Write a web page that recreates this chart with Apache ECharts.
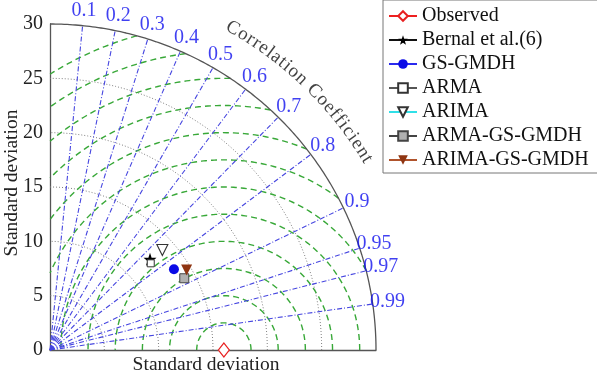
<!DOCTYPE html>
<html><head><meta charset="utf-8">
<script src="https://cdn.jsdelivr.net/npm/echarts@6/dist/echarts.min.js"></script>
<style>html,body{margin:0;padding:0;background:#fff}#c{width:597px;height:375px}</style>
</head><body><div id="c"></div>
<script>
// ---- data ----
const stdTicks = [0, 5, 10, 15, 20, 25, 30];
const stdArcs = [5, 10, 15, 20, 25];
const stdMax = 30;
const corrTicks = [0.1, 0.2, 0.3, 0.4, 0.5, 0.6, 0.7, 0.8, 0.9, 0.95, 0.97, 0.99];
const corrLabels = ['0.1', '0.2', '0.3', '0.4', '0.5', '0.6', '0.7', '0.8', '0.9', '0.95', '0.97', '0.99'];
const rmsLevels = [2.5, 5, 7.5, 10, 12.5, 15, 17.5, 20, 22.5, 25, 27.5, 30];
const refName = 'Observed';
const refStd = 16;
const modelNames = ['Bernal et al.(6)', 'GS-GMDH', 'ARMA', 'ARIMA', 'ARMA-GS-GMDH', 'ARIMA-GS-GMDH'];
const modelStd = [12.42, 13.61, 12.23, 13.84, 14.01, 14.57];
const modelCorr = [0.741, 0.838, 0.758, 0.747, 0.882, 0.863];
const axisTitle = 'Standard deviation';
const corrTitle = 'Correlation Coefficient';

// ---- styles ----
const FONT = '"Liberation Serif", "Times New Roman", serif';
const GRID = {left: 50, top: 24, size: 326};
const pxPerUnit = GRID.size / stdMax;
const starPath = 'path://M0,-10 L2.35,-3.24 9.51,-3.09 3.8,1.24 5.88,8.09 0,4 -5.88,8.09 -3.8,1.24 -9.51,-3.09 -2.35,-3.24Z';
const modelStyles = [
  {symbol: starPath, size: 13, rotate: 0, line: '#111', item: {color: '#000'}},
  {symbol: 'circle', size: 10, rotate: 0, line: '#2a2aee', item: {color: '#0a0ae6'}},
  {symbol: 'rect', size: 7, rotate: 0, line: '#555', item: {color: '#fff', borderColor: '#333', borderWidth: 1}},
  {symbol: 'triangle', size: 11, rotate: 180, line: '#30e0e8', item: {color: '#fff', borderColor: '#333', borderWidth: 1.1}},
  {symbol: 'rect', size: 9, rotate: 0, line: '#444', item: {color: '#b0b0b0', borderColor: '#444', borderWidth: 1}},
  {symbol: 'triangle', size: 11, rotate: 180, line: '#b0532c', item: {color: '#8f3512'}}
];

function deg(r) { return r * 180 / Math.PI; }

const series = [];
// std dotted arcs
stdArcs.forEach(r => {
  const pts = [];
  for (let i = 0; i <= 90; i++) { const t = i * Math.PI / 180; pts.push([r * Math.cos(t), r * Math.sin(t)]); }
  series.push({type: 'line', data: pts, symbol: 'none', silent: true, clip: false, z: 1,
    lineStyle: {color: '#808080', width: 1, type: [1, 2]}});
});
// RMS dashed arcs centred on the reference
rmsLevels.forEach(r => {
  let t0 = 0, t1 = Math.PI;
  if (refStd + r > stdMax) {
    const x = (stdMax * stdMax - r * r + refStd * refStd) / (2 * refStd);
    const y = Math.sqrt(Math.max(0, stdMax * stdMax - x * x));
    t0 = Math.atan2(y, x - refStd);
  }
  if (r > refStd) t1 = Math.atan2(Math.sqrt(r * r - refStd * refStd), -refStd);
  const pts = [], n = 160;
  for (let i = 0; i <= n; i++) { const t = t0 + (t1 - t0) * i / n; pts.push([refStd + r * Math.cos(t), r * Math.sin(t)]); }
  series.push({type: 'line', data: pts, symbol: 'none', silent: true, clip: false, z: 2,
    lineStyle: {color: '#38a838', width: 1.4, type: [6, 4]}});
});
// correlation rays
corrTicks.forEach(c => {
  const s = Math.sqrt(1 - c * c);
  series.push({type: 'line', data: [[0, 0], [stdMax * c, stdMax * s]], symbol: 'none', silent: true, clip: false, z: 3,
    lineStyle: {color: '#4646e0', width: 1.1, type: [5, 2, 1, 2]}});
});
// outer arc
(function () {
  const pts = [];
  for (let i = 0; i <= 180; i++) { const t = i * Math.PI / 360; pts.push([stdMax * Math.cos(t), stdMax * Math.sin(t)]); }
  series.push({type: 'line', data: pts, symbol: 'none', silent: true, clip: false, z: 4,
    lineStyle: {color: '#555', width: 1.3, type: 'solid'}});
})();
// correlation labels
const labR = 341 / pxPerUnit;
series.push({type: 'scatter', silent: true, clip: false, z: 5, symbol: 'circle', symbolSize: 1,
  itemStyle: {color: 'transparent'},
  label: {show: true, position: 'inside', formatter: '{b}', color: '#1010ee', fontFamily: FONT, fontSize: 20},
  data: corrTicks.map((c, i) => ({name: corrLabels[i], value: [labR * c, labR * Math.sqrt(1 - c * c)]}))});
// curved title
(function () {
  const ctx = document.createElement('canvas').getContext('2d');
  const fs = 19;
  ctx.font = fs + 'px ' + FONT;
  const Rpx = 370, spacing = 1.0;
  let a = 61.4 * Math.PI / 180;
  const data = [];
  for (const ch of corrTitle) {
    const w = ctx.measureText(ch).width;
    const mid = a - (w / 2) / Rpx;
    if (ch !== ' ') {
      const ru = Rpx / pxPerUnit;
      data.push({name: ch, value: [ru * Math.cos(mid), ru * Math.sin(mid)], label: {rotate: deg(mid) - 90}});
    }
    a -= (w + spacing) / Rpx;
  }
  series.push({type: 'scatter', silent: true, clip: false, z: 5, symbol: 'circle', symbolSize: 1,
    itemStyle: {color: 'transparent'},
    label: {show: true, position: 'inside', formatter: '{b}', color: '#111', fontFamily: FONT, fontSize: fs},
    data: data});
})();
// reference point
series.push({name: refName, type: 'line', data: [[refStd, 0]], symbol: 'diamond', symbolSize: [11, 14], showSymbol: true,
  clip: false, z: 10, lineStyle: {color: '#ee2020', width: 1}, itemStyle: {color: '#fff', borderColor: '#e82020', borderWidth: 1.2}});
// models
modelNames.forEach((n, i) => {
  const st = modelStyles[i];
  const c = modelCorr[i], s = modelStd[i];
  series.push({name: n, type: 'line', data: [[s * c, s * Math.sqrt(1 - c * c)]], symbol: st.symbol, symbolSize: st.size,
    symbolRotate: st.rotate, showSymbol: true, clip: false, z: 10 + i,
    lineStyle: {color: st.line, width: 1}, itemStyle: st.item});
});

const chart = echarts.init(document.getElementById('c'), null, {renderer: 'canvas'});
chart.setOption({
  animation: false,
  backgroundColor: '#fff',
  grid: {left: GRID.left, top: GRID.top, width: GRID.size, height: GRID.size, containLabel: false, outerBoundsMode: 'none'},
  xAxis: {type: 'value', min: 0, max: stdMax, interval: 5,
    axisLine: {show: true, onZero: false, lineStyle: {color: '#555', width: 1.3}},
    axisTick: {show: false}, axisLabel: {show: false}, splitLine: {show: false},
    name: axisTitle, nameLocation: 'middle', nameGap: 5, nameMoveOverlap: false,
    nameTextStyle: {fontFamily: FONT, fontSize: 19.5, color: '#222', padding: [0, 14, 0, 0], verticalAlign: 'top'}},
  yAxis: {type: 'value', min: 0, max: stdMax, interval: 5,
    axisLine: {show: true, onZero: false, lineStyle: {color: '#555', width: 1.3}},
    axisTick: {show: false}, splitLine: {show: false},
    axisLabel: {fontFamily: FONT, fontSize: 20, color: '#222', margin: 7, formatter: v => stdTicks.includes(v) ? String(v) : ''},
    name: axisTitle, nameLocation: 'middle', nameGap: 28, nameRotate: 90, nameMoveOverlap: false,
    nameTextStyle: {fontFamily: FONT, fontSize: 19.5, color: '#222', padding: [0, 0, 0, 8]}},
  legend: {left: 383, top: 0, orient: 'vertical', padding: [6, 11, 3, 5], itemWidth: 28, itemHeight: 12, itemGap: 4,
    borderColor: '#777', borderWidth: 1, borderRadius: 0, backgroundColor: '#fff',
    textStyle: {fontFamily: FONT, fontSize: 20, color: '#111', lineHeight: 20},
    data: [refName].concat(modelNames)},
  series: series
});
</script></body></html>
